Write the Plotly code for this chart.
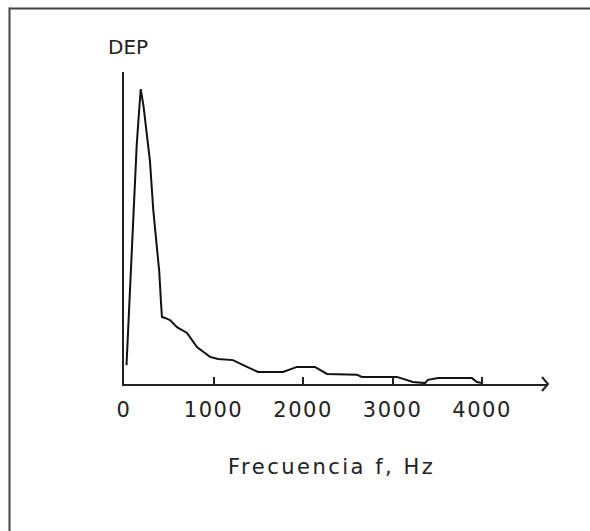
import plotly.graph_objects as go

# Frequency (Hz) and normalized power spectral density (DEP)
freq = [28, 48, 86, 112, 142, 171, 187, 218, 246, 290, 327, 365, 394, 413, 424,
        458, 514, 592, 704, 815, 961, 1050, 1218, 1374, 1497, 1776, 1932, 2133,
        2268, 2603, 2658, 3049, 3228, 3362, 3396, 3507, 3887, 3943, 4010]
dep = [0.064, 0.197, 0.461, 0.664, 0.810, 0.936, 1.0, 0.942, 0.868, 0.756, 0.590,
       0.471, 0.380, 0.278, 0.227, 0.224, 0.217, 0.193, 0.173, 0.125, 0.092, 0.085,
       0.081, 0.058, 0.041, 0.041, 0.058, 0.058, 0.034, 0.031, 0.024, 0.024, 0.007,
       0.003, 0.014, 0.020, 0.020, 0.007, 0.003]

tick_vals = [0, 1000, 2000, 3000, 4000]
tick_text = ["0", "1000", "2000", "3000", "4000"]

x_max = 4737
y_max = 1.058

W, H = 590, 531
L, R, T, B = 124, 42, 72, 147
pw = W - L - R
ph = H - T - B

def px(x):
    return (x - L) / pw

def py(y):
    return (H - B - y) / ph

ink = "#222222"
fontfam = "DejaVu Sans"

fig = go.Figure()
fig.add_trace(go.Scatter(x=freq, y=dep, mode="lines",
                         line=dict(color="#111111", width=2), showlegend=False,
                         hoverinfo="skip"))

fig.update_layout(
    width=W, height=H,
    margin=dict(l=L, r=R, t=T, b=B),
    paper_bgcolor="white", plot_bgcolor="white",
    font=dict(family=fontfam, color=ink, size=21),
    xaxis=dict(range=[0, x_max], showgrid=False, zeroline=False,
               showline=True, linecolor=ink, linewidth=2,
               ticks="inside", ticklen=7, tickwidth=2, tickcolor=ink,
               tickvals=tick_vals,
               ticktext=['<span style="letter-spacing:1.5px">%s</span>' % t for t in tick_text],
               tickfont=dict(size=21, color=ink, family=fontfam),
               ticklabelstandoff=6),
    yaxis=dict(range=[0, y_max], showgrid=False, zeroline=False,
               showline=True, linecolor=ink, linewidth=2,
               showticklabels=False, ticks=""),
    shapes=[
        # outer frame (top and left)
        dict(type="line", xref="paper", yref="paper", x0=px(9.5), x1=px(592),
             y0=py(8.5), y1=py(8.5), line=dict(color="#444444", width=2)),
        dict(type="line", xref="paper", yref="paper", x0=px(9.5), x1=px(9.5),
             y0=py(7.5), y1=py(533), line=dict(color="#444444", width=2)),
        # arrow head on x axis
        dict(type="path", xref="paper", yref="paper",
             xsizemode="pixel", ysizemode="pixel", xanchor=1.0, yanchor=0.0,
             path="M -6,7 L 0,0 L -6,-7", line=dict(color=ink, width=2)),
    ],
    annotations=[
        dict(text="DEP", xref="paper", yref="paper", x=px(128), y=py(47),
             showarrow=False, xanchor="center", yanchor="middle",
             font=dict(size=20, color=ink, family=fontfam)),
        dict(text='<span style="letter-spacing:2.5px">Frecuencia f, Hz</span>',
             xref="paper", yref="paper", x=px(331), y=py(467),
             showarrow=False, xanchor="center", yanchor="middle",
             font=dict(size=21, color=ink, family=fontfam)),
    ],
)

fig.write_html("out.html")
